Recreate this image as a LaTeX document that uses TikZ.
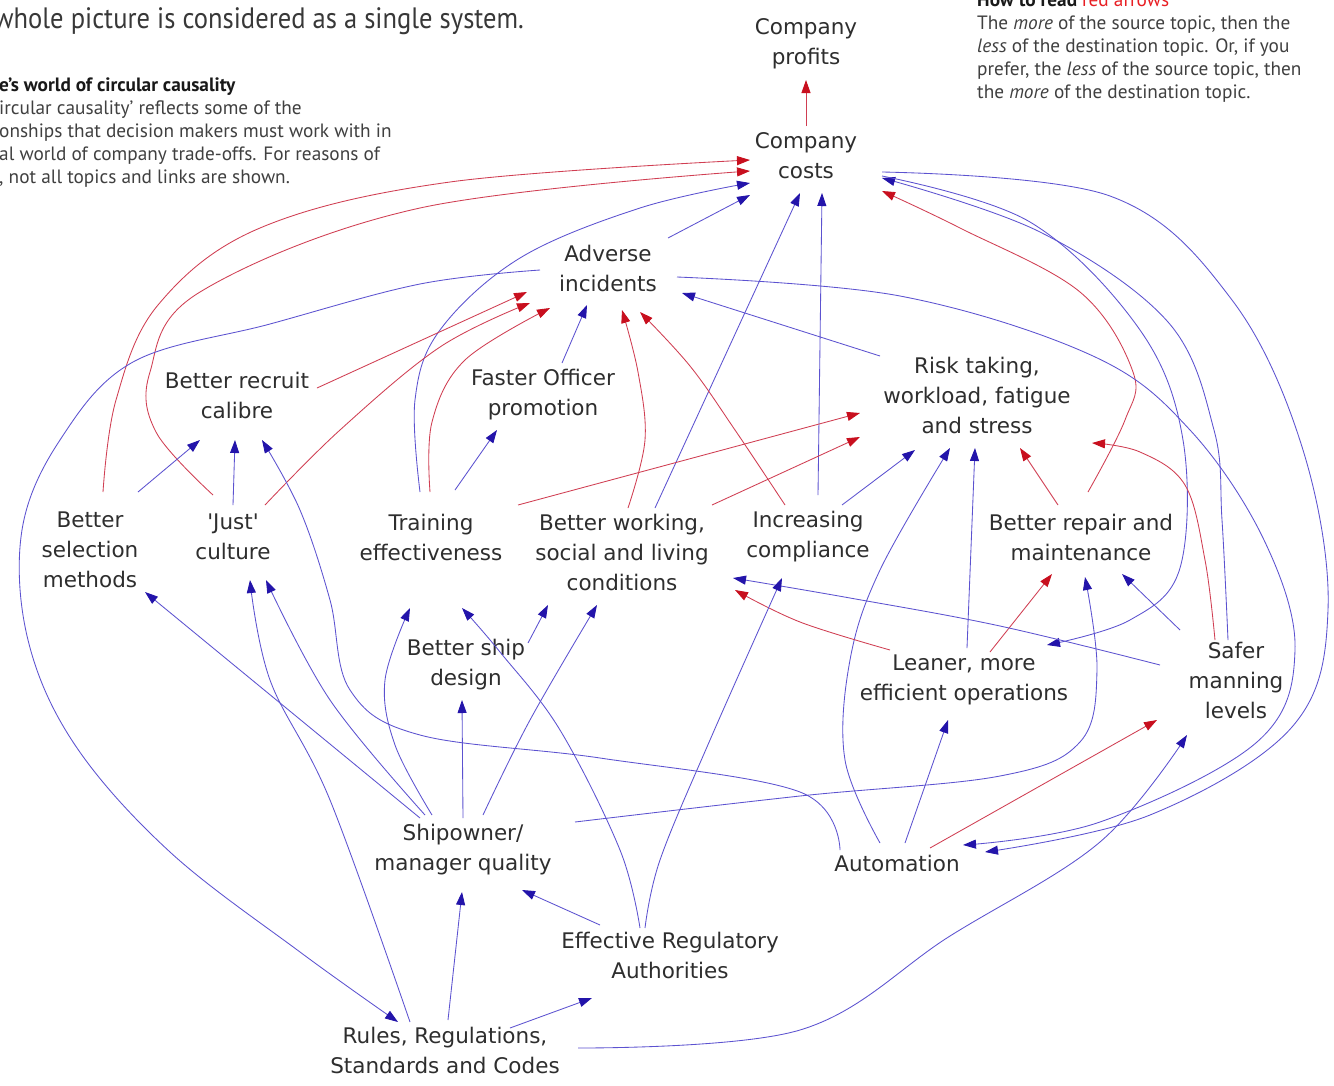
\documentclass[tikz,border=0pt]{standalone}
\usepackage{fontspec}
\usepackage{graphicx}
\setmainfont{PT Sans}
\newfontfamily\lblfont{DejaVu Sans}
\usetikzlibrary{arrows.meta,calc}
\definecolor{lnblue}{RGB}{92,82,208}
\definecolor{hdblue}{RGB}{35,20,170}
\definecolor{lnred}{RGB}{208,62,82}
\definecolor{hdred}{RGB}{200,15,30}
\definecolor{txtred}{RGB}{232,30,35}
\begin{document}
\begin{tikzpicture}[x=1pt,y=-1pt,
  lbl/.style={font=\lblfont\fontsize{21.5}{30}\selectfont, align=center, text=black!82, inner sep=1pt},
  desc/.style={font=\fontsize{19.3}{22}\selectfont, text=black!75, anchor=base west, inner sep=0pt},
  bl/.style={draw=lnblue, line width=0.85pt, -{Triangle[length=13pt,width=9pt,color=hdblue]}},
  rd/.style={draw=lnred, line width=0.85pt, -{Triangle[length=13pt,width=9pt,color=hdred]}},
  sm/.style={smooth, tension=0.6}]
\useasboundingbox (0,0) rectangle (1334,1085);
\clip (0,0) rectangle (1334,1085);
\fill[white] (0,0) rectangle (1334,1085);

% header texts
\node[desc, text=black!78] (title) at (-6,28) {\scalebox{0.9}[1]{\fontsize{29.5}{32}\selectfont whole picture is considered as a single system.}};
\node[desc, font=\bfseries\fontsize{19.3}{22}\selectfont, text=black!90] (dh) at (-1,91) {e’s world of circular causality};
\node[desc] (d1) at (-1,114) {ircular causality’ reflects some of the};
\node[desc] (d2) at (-1,137) {onships that decision makers must work with in};
\node[desc] (d3) at (-1,160) {al world of company trade-offs. For reasons of};
\node[desc] (d4) at (-1,183) {, not all topics and links are shown.};

\node[desc, font=\bfseries\fontsize{19.3}{22}\selectfont, text=black!90] (rh) at (977,6) {How to read \textcolor{txtred}{\mdseries red arrows}};
\node[desc] (r1) at (977,29) {The \textit{more} of the source topic, then the};
\node[desc] (r2) at (977,52) {\textit{less} of the destination topic. Or, if you};
\node[desc] (r3) at (977,75) {prefer, the \textit{less} of the source topic, then};
\node[desc] (r4) at (977,98) {the \textit{more} of the destination topic.};

% topics
\node[lbl] (profits) at (806,44) {Company\\profits};
\node[lbl] (costs) at (806,156) {Company\\costs};
\node[lbl] (adverse) at (608,268) {Adverse\\incidents};
\node[lbl] (recruit) at (237,395) {Better recruit\\calibre};
\node[lbl] (faster) at (543,395) {Faster Officer\\promotion};
\node[lbl] (risk) at (977,395) {Risk taking,\\workload, fatigue\\and stress};
\node[lbl] (selection) at (90,550) {Better\\selection\\methods};
\node[lbl] (just) at (233,537) {'Just'\\culture};
\node[lbl] (training) at (431,537) {Training\\effectiveness};
\node[lbl] (working) at (622,552) {Better working,\\social and living\\conditions};
\node[lbl] (compliance) at (808,537) {Increasing\\compliance};
\node[lbl] (repair) at (1081,537) {Better repair and\\maintenance};
\node[lbl] (shipdesign) at (466,665) {Better ship\\design};
\node[lbl] (leaner) at (964,680) {Leaner, more\\efficient operations};
\node[lbl] (safer) at (1236,680) {Safer\\manning\\levels};
\node[lbl] (shipowner) at (463,850) {Shipowner/\\manager quality};
\node[lbl] (automation) at (897,863) {Automation};
\node[lbl] (effective) at (670,955) {Effective Regulatory\\Authorities};
\node[lbl] (rules) at (445,1050) {Rules, Regulations,\\Standards and Codes};

% ---------- connectors ----------
\draw[rd] ($(costs)+(0,-30)$) -- ($(profits)+(0,36)$);
% into costs, left
\draw[rd] plot[sm] coordinates {($(selection)+(13,-58)$) (116,400) (158,305) (260,228) (450,182) ($(costs)+(-56,4)$)};
\draw[rd] plot[sm] coordinates {($(just)+(-20,-42)$) (156,432) (150,372) (200,292) (420,208) ($(costs)+(-56,15)$)};
\draw[bl] plot[sm] coordinates {($(training)+(-11,-45)$) (415,400) (440,330) (520,258) (640,208) ($(costs)+(-56,27)$)};
\draw[bl] ($(adverse)+(60,-30)$) -- ($(costs)+(-56,39)$);
\draw[bl] ($(working)+(33,-44)$) -- ($(costs)+(-6,37)$);
\draw[bl] ($(compliance)+(10,-42)$) -- ($(costs)+(16,37)$);
% into costs, right
\draw[rd] plot[sm] coordinates {($(repair)+(7,-45)$) (1125,420) (1133,372) (1080,292) (960,228) ($(costs)+(76,35)$)};
\draw[bl] plot[sm] coordinates {($(safer)+(-8,-40)$) (1222,520) (1214,430) (1168,322) (1040,232) ($(costs)+(76,22)$)};
% out of costs
\draw[bl] plot[sm] coordinates {($(costs)+(76,20)$) (1030,222) (1140,330) (1183,440) (1180,568) (1130,620) ($(leaner)+(83,-35)$)};
\draw[bl] plot[sm] coordinates {($(costs)+(76,16)$) (1110,196) (1232,300) (1303,450) (1328,610) (1292,727) (1150,815) ($(automation)+(88,-11)$)};
% adverse right loop
\draw[bl] plot[sm] coordinates {($(adverse)+(69,9)$) (900,296) (1093,356) (1190,430) (1264,540) (1295,650) (1257,742) (1100,822) ($(automation)+(66,-18)$)};
% adverse left loop to rules
\draw[bl] plot[sm] coordinates {($(adverse)+(-68,2)$) (420,284) (270,324) (133,362) (60,440) (22,530) (28,640) (75,745) (170,852) (300,952) ($(rules)+(-47,-28)$)};
% into adverse
\draw[rd] ($(recruit)+(80,-7)$) -- ($(adverse)+(-81,24)$);
\draw[rd] plot[sm] coordinates {($(just)+(32,-32)$) (340,430) (440,347) ($(adverse)+(-78,35)$)};
\draw[rd] plot[sm] coordinates {($(training)+(-1,-45)$) (432,422) (465,360) ($(adverse)+(-58,40)$)};
\draw[bl] ($(faster)+(19,-32)$) -- ($(adverse)+(-21,37)$);
\draw[rd] plot[sm] coordinates {($(working)+(6,-44)$) (645,440) (638,372) ($(adverse)+(14,42)$)};
\draw[rd] plot[sm] coordinates {($(compliance)+(-23,-32)$) (735,430) (690,366) ($(adverse)+(32,44)$)};
\draw[bl] ($(risk)+(-97,-39)$) -- ($(adverse)+(74,25)$);
% into recruit
\draw[bl] ($(selection)+(48,-58)$) -- ($(recruit)+(-37,45)$);
\draw[bl] ($(just)+(0,-32)$) -- ($(recruit)+(-2,45)$);
\draw[bl] plot[sm] coordinates {($(automation)+(-57,-13)$) (800,792) (600,758) (420,735) (350,690) (330,600) (300,510) ($(recruit)+(25,45)$)};
% into faster
\draw[bl] ($(training)+(24,-47)$) -- ($(faster)+(-46,35)$);
% into risk
\draw[rd] ($(working)+(-104,-47)$) -- ($(risk)+(-117,18)$);
\draw[rd] ($(working)+(90,-47)$) -- ($(risk)+(-117,42)$);
\draw[bl] ($(compliance)+(34,-32)$) -- ($(risk)+(-62,55)$);
\draw[bl] plot[sm] coordinates {($(automation)+(-17,-20)$) (845,760) (850,660) (880,570) ($(risk)+(-27,53)$)};
\draw[bl] ($(leaner)+(3,-32)$) -- ($(risk)+(-2,53)$);
\draw[rd] ($(repair)+(-23,-32)$) -- ($(risk)+(43,53)$);
\draw[rd] plot[sm] coordinates {($(safer)+(-21,-40)$) (1205,560) (1185,485) (1140,452) ($(risk)+(115,48)$)};
% into repair
\draw[rd] ($(leaner)+(26,-28)$) -- ($(repair)+(-29,37)$);
\draw[bl] plot[sm] coordinates {($(shipowner)+(112,-28)$) (800,796) (1000,776) (1080,742) (1097,670) ($(repair)+(4,40)$)};
\draw[bl] ($(safer)+(-56,-50)$) -- ($(repair)+(41,37)$);
% into leaner, safer
\draw[bl] ($(automation)+(8,-20)$) -- ($(leaner)+(-16,40)$);
\draw[rd] ($(automation)+(33,-15)$) -- ($(safer)+(-79,40)$);
\draw[bl] plot[sm] coordinates {($(rules)+(133,-2)$) (800,1030) (950,936) (1100,842) ($(safer)+(-49,55)$)};
% into working
\draw[bl] plot[sm] coordinates {($(safer)+(-76,-15)$) (1000,626) (850,598) ($(working)+(111,26)$)};
\draw[rd] plot[sm] coordinates {($(leaner)+(-74,-30)$) (800,622) ($(working)+(113,38)$)};
\draw[bl] ($(shipdesign)+(62,-22)$) -- ($(working)+(-74,53)$);
\draw[bl] plot[sm] coordinates {($(shipowner)+(20,-35)$) (530,720) ($(working)+(-25,53)$)};
% into compliance, training
\draw[bl] plot[sm] coordinates {($(effective)+(-25,-27)$) (660,860) (710,740) ($(compliance)+(-26,41)$)};
\draw[bl] plot[sm] coordinates {($(effective)+(-30,-27)$) (620,850) (560,730) (500,652) ($(training)+(31,71)$)};
\draw[bl] plot[sm] coordinates {($(shipowner)+(-31,-35)$) (395,745) (385,680) ($(training)+(-21,71)$)};
% into just, selection, ship design
\draw[bl] plot[sm] coordinates {($(rules)+(-35,-28)$) (330,800) (270,680) ($(just)+(17,43)$)};
\draw[bl] plot[sm] coordinates {($(shipowner)+(-38,-35)$) (330,700) ($(just)+(33,43)$)};
\draw[bl] ($(shipowner)+(-43,-32)$) -- ($(selection)+(55,42)$);
\draw[bl] ($(shipowner)+(0,-32)$) -- ($(shipdesign)+(-4,35)$);
% into shipowner, effective
\draw[bl] ($(rules)+(3,-30)$) -- ($(shipowner)+(-1,42)$);
\draw[bl] ($(effective)+(-70,-30)$) -- ($(shipowner)+(59,40)$);
\draw[bl] ($(rules)+(65,-22)$) -- ($(effective)+(-78,43)$);
\end{tikzpicture}
\end{document}
